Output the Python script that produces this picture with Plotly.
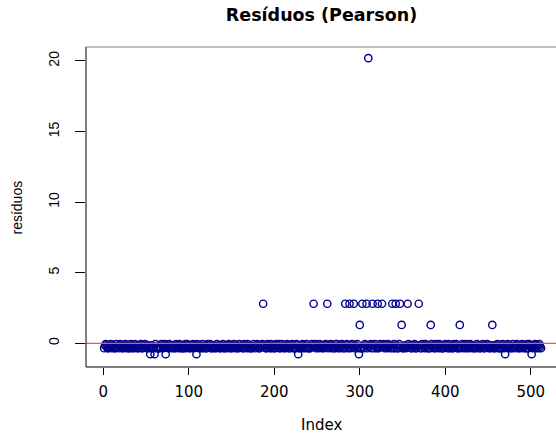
import plotly.graph_objects as go

# ---- data ----
n_points = 512
band_levels = {"0": -0.06, "1": -0.15, "2": -0.24, "3": -0.35}
band_codes = [
    "3102331203213302", "2310233120312330", "1323021331203312", "0231320133210323",
    "3320132031230213", "2133021302313320", "3012332103213023", "1230321330120332",
    "1323021331203312", "3102331203213302", "2133021302313320", "2310233120312330",
    "1230321330120332", "0231320133210323", "3012332103213023", "3320132031230213",
    "2310233120312330", "0231320133210323", "3102331203213302", "3012332103213023",
    "3320132031230213", "1230321330120332", "1323021331203312", "2133021302313320",
    "2133021302313320", "1230321330120332", "3320132031230213", "1323021331203312",
    "0231320133210323", "3102331203213302", "2310233120312330", "3012332103213023",
]
low_idx = [55, 60, 73, 109, 228, 299, 470, 501]
low_val = -0.77
mid_idx = [300, 349, 383, 417, 455]
mid_val = 1.30
high_idx = [187, 246, 262, 283, 288, 293, 303, 308, 315, 321, 326, 338, 342, 347, 356, 369]
high_val = 2.80
top_idx = [310]
top_val = 20.20

x_ticks = [0, 100, 200, 300, 400, 500]
y_ticks = [0, 5, 10, 15, 20]

# ---- build series ----
codes = "".join(band_codes)
residuals = [band_levels[c] for c in codes[:n_points]]
for group, val in ((low_idx, low_val), (mid_idx, mid_val), (high_idx, high_val), (top_idx, top_val)):
    for i in group:
        residuals[i - 1] = val
index = list(range(1, n_points + 1))

W, H = 556, 436
L, R, T, B = 86, 0, 47, 69
pw, ph = W - L - R, H - T - B

def px_x(x):
    return (x - L) / pw

def px_y(y):
    return (H - B - y) / ph

fig = go.Figure()
fig.add_trace(go.Scatter(
    x=index, y=residuals, mode="markers",
    marker=dict(symbol="circle-open", size=7.3, color="#00008B", line=dict(width=1.4, color="#00008B")),
    hoverinfo="skip",
))

fig.update_layout(
    width=W, height=H,
    margin=dict(l=L, r=R, t=T, b=B, pad=0, autoexpand=False),
    plot_bgcolor="white", paper_bgcolor="white",
    showlegend=False,
    title=dict(text="<b>Resíduos (Pearson)</b>", x=321.5 / W, xanchor="center", xref="container",
               y=1 - 14.5 / H, yanchor="middle",
               font=dict(family="DejaVu Sans", size=17.5, color="black")),
    xaxis=dict(range=[-20.2, 529.5], tickvals=x_ticks, ticks="outside", ticklen=7,
               tickcolor="black", tickwidth=1, showgrid=False, zeroline=False, showline=False,
               automargin=False,
               tickfont=dict(family="DejaVu Sans", size=15, color="black"),
               ticklabelstandoff=4),
    yaxis=dict(range=[-1.68, 20.99], tickvals=y_ticks, ticks="outside", ticklen=10,
               tickcolor="black", tickwidth=1, showgrid=False, zeroline=False, showline=False,
               automargin=False, tickangle=-90,
               tickfont=dict(family="Liberation Sans", size=14, color="black"),
               ticklabelstandoff=10),
    shapes=[
        dict(type="line", xref="paper", yref="y", x0=0, x1=1, y0=0, y1=0,
             line=dict(color="#ff5050", width=1.2)),
        dict(type="line", xref="paper", yref="paper", x0=0, x1=0, y0=0, y1=1,
             line=dict(color="black", width=1)),
        dict(type="line", xref="paper", yref="paper", x0=0, x1=1, y0=0, y1=0,
             line=dict(color="black", width=1)),
        dict(type="line", xref="paper", yref="paper", x0=0, x1=1, y0=1, y1=1,
             line=dict(color="#808080", width=1)),
    ],
    annotations=[
        dict(text="Index", xref="paper", yref="paper", x=px_x(321.7), y=px_y(425),
             xanchor="center", yanchor="middle", showarrow=False,
             font=dict(family="DejaVu Sans", size=15, color="black")),
        dict(text="resíduos", xref="paper", yref="paper", x=px_x(16), y=px_y(207.5),
             xanchor="center", yanchor="middle", showarrow=False, textangle=-90,
             font=dict(family="Liberation Sans", size=14, color="black")),
    ],
)

fig.write_html(
    "out.html",
    config={"displayModeBar": False},
    post_script="document.body.style.margin='0';document.body.style.overflow='hidden';",
)
